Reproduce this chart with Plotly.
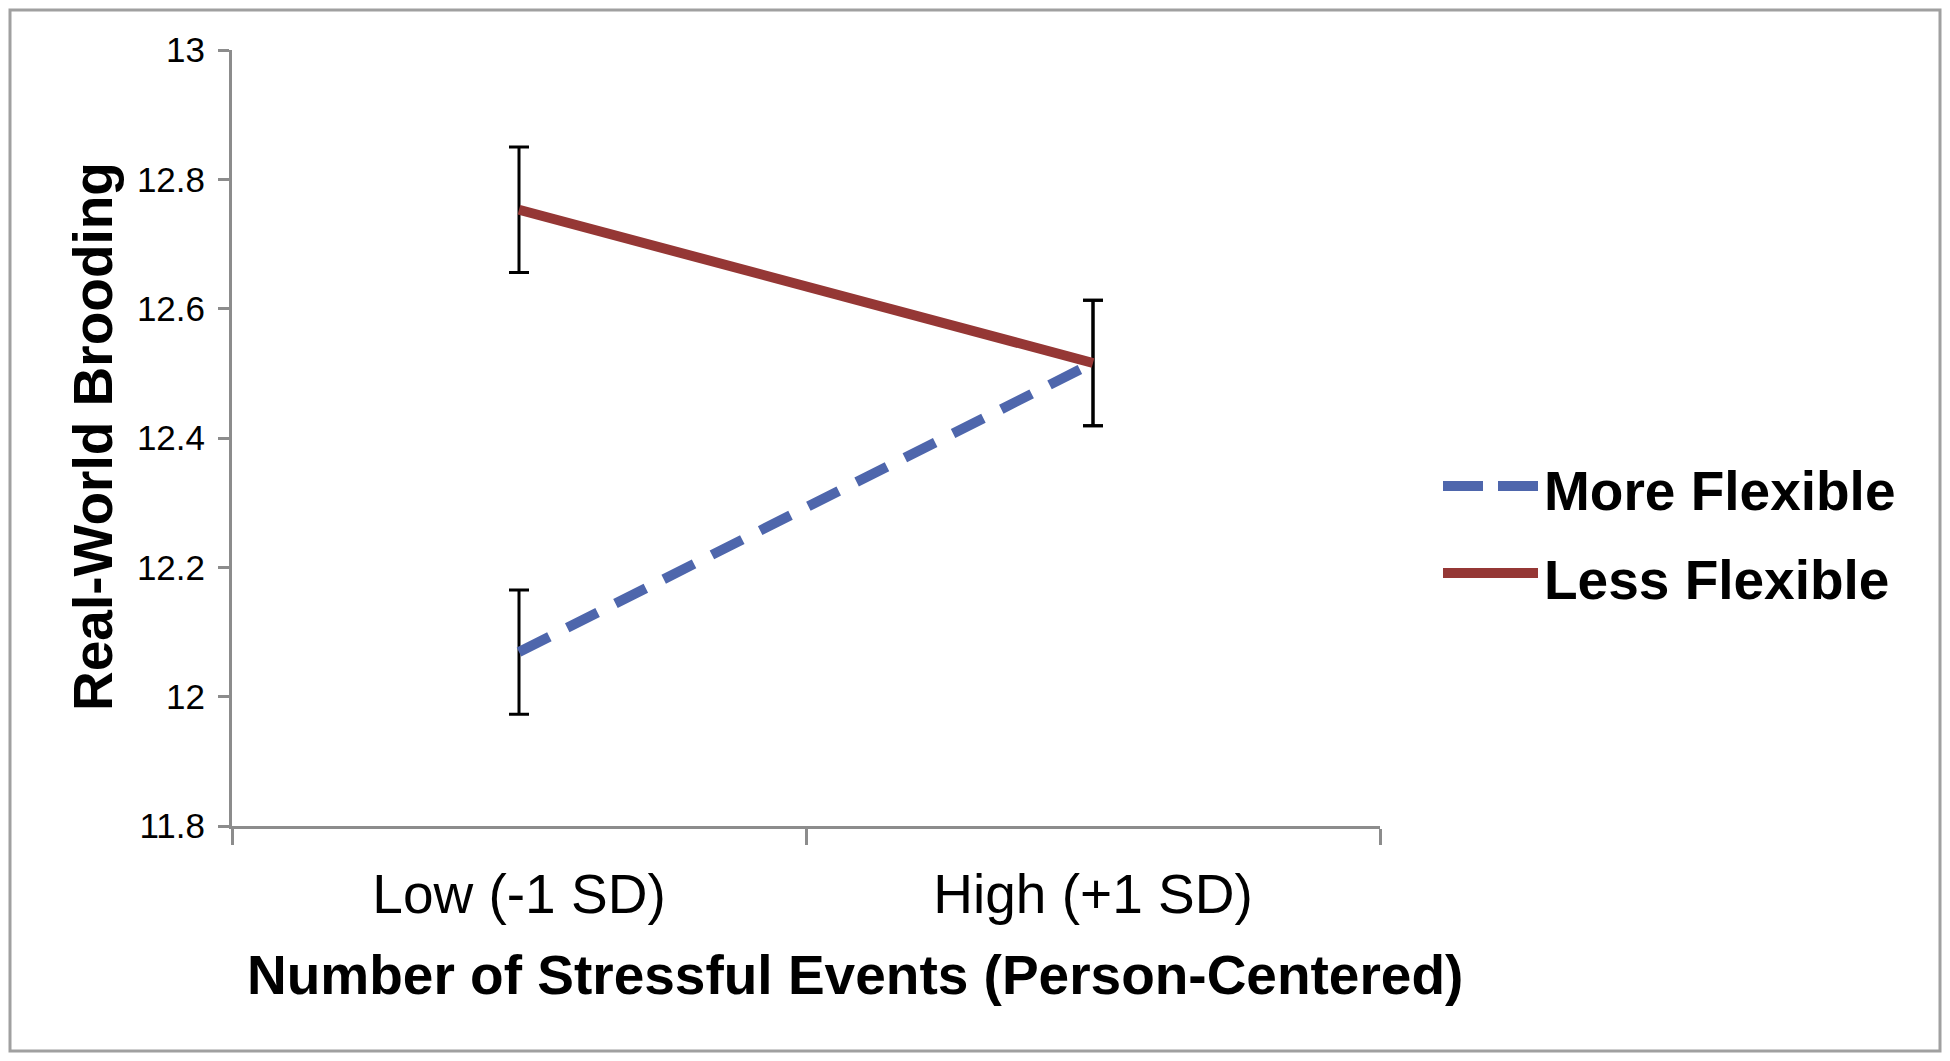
import plotly.graph_objects as go

# Werte
kategorien = ["Low (-1 SD)", "High (+1 SD)"]
mehr_flexibel = [12.069, 12.516]
weniger_flexibel = [12.753, 12.516]
fehler_mehr = [0.096, 0.097]
fehler_weniger = [0.097, 0.097]
y_ticks = [11.8, 12, 12.2, 12.4, 12.6, 12.8, 13]

BLAU = "#4E66AC"
ROT = "#953735"
GRAU = "#8C8C8C"
SCHRIFT = "Liberation Sans, Arial, sans-serif"

# der Browser setzt die Seite 8 px vom Rand ab, ohne Scrollbalken bleibt 1950-16 x 1061-16
VERSATZ = 8
BREITE, HOEHE = 1950 - 2 * VERSATZ, 1061 - 2 * VERSATZ
LINKS, RECHTS, OBEN, UNTEN = 232, 1380, 50, 826   # Plotfläche im Zielbild
RAND = dict(l=LINKS - VERSATZ, r=BREITE - (RECHTS - VERSATZ),
            t=OBEN - VERSATZ, b=HOEHE - (UNTEN - VERSATZ))


def px_zu_paper_x(px):
    return (px - LINKS) / (RECHTS - LINKS)


def px_zu_paper_y(py):
    return (UNTEN - py) / (UNTEN - OBEN)


fig = go.Figure()

fig.add_trace(go.Scatter(
    x=kategorien, y=mehr_flexibel, name="More Flexible", mode="lines",
    line=dict(color=BLAU, width=10, dash="34px,20px"),
    error_y=dict(type="data", array=fehler_mehr, color="black", thickness=3, width=10),
    showlegend=False))

fig.add_trace(go.Scatter(
    x=kategorien, y=weniger_flexibel, name="Less Flexible", mode="lines",
    line=dict(color=ROT, width=10),
    error_y=dict(type="data", array=fehler_weniger, color="black", thickness=3, width=10),
    showlegend=False))

# Legende von Hand, damit die Linien so lang wie im Original werden
legende = [("More Flexible", BLAU, "40px,15px", 486, 491), ("Less Flexible", ROT, "solid", 573, 580)]
for text, farbe, strich, y_linie, y_text in legende:
    fig.add_shape(type="line", xref="paper", yref="paper",
                  x0=px_zu_paper_x(1443), x1=px_zu_paper_x(1538),
                  y0=px_zu_paper_y(y_linie), y1=px_zu_paper_y(y_linie),
                  line=dict(color=farbe, width=10, dash=strich))
    fig.add_annotation(text=text, xref="paper", yref="paper", showarrow=False,
                       x=px_zu_paper_x(1542), y=px_zu_paper_y(y_text),
                       xanchor="left", yanchor="middle",
                       font=dict(family=SCHRIFT, size=55, color="black", weight="bold"))

# Achsentitel
fig.add_annotation(text="Number of Stressful Events (Person-Centered)", xref="paper", yref="paper",
                   showarrow=False, x=px_zu_paper_x(855), y=px_zu_paper_y(975),
                   xanchor="center", yanchor="middle",
                   font=dict(family=SCHRIFT, size=55, color="black", weight="bold"))
fig.add_annotation(text="Real-World Brooding", xref="paper", yref="paper", textangle=-90,
                   showarrow=False, x=px_zu_paper_x(93), y=px_zu_paper_y(437),
                   xanchor="center", yanchor="middle",
                   font=dict(family=SCHRIFT, size=55, color="black", weight="bold"))

# Rahmen um das ganze Bild, so weit außen wie die Seite erlaubt
fig.add_shape(type="rect", xref="paper", yref="paper",
              x0=px_zu_paper_x(VERSATZ + 2), x1=px_zu_paper_x(VERSATZ + BREITE - 2),
              y0=px_zu_paper_y(VERSATZ + HOEHE - 2), y1=px_zu_paper_y(VERSATZ + 2),
              line=dict(color="#A0A0A0", width=3), fillcolor="rgba(0,0,0,0)")

fig.update_xaxes(
    range=[-0.5, 1.5], showline=True, linecolor=GRAU, linewidth=3,
    ticks="outside", tickson="boundaries", ticklen=16, tickwidth=3, tickcolor=GRAU,
    showgrid=False, zeroline=False, ticklabelstandoff=18,
    tickfont=dict(family=SCHRIFT, size=55, color="black"))

fig.update_yaxes(
    range=[11.8, 13], tickvals=y_ticks, showline=True, linecolor=GRAU, linewidth=3,
    ticks="outside", ticklen=11, tickwidth=3, tickcolor=GRAU,
    showgrid=False, zeroline=False, ticklabelstandoff=6,
    tickfont=dict(family=SCHRIFT, size=35, color="black"))

fig.update_layout(
    width=BREITE, height=HOEHE, margin=RAND,
    paper_bgcolor="white", plot_bgcolor="white",
    font=dict(family=SCHRIFT))

fig.write_html("out.html")
